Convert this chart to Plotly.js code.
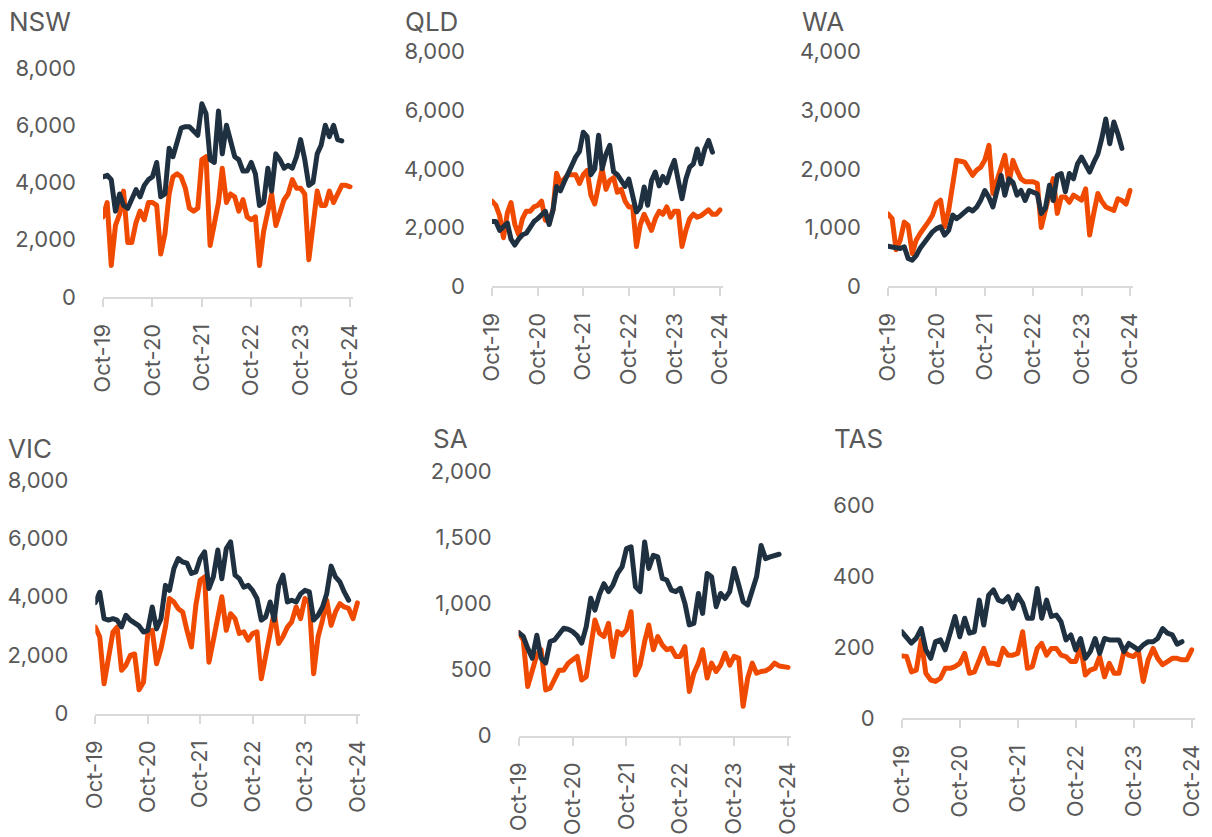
<!DOCTYPE html>
<html><head><meta charset="utf-8">
<script src="https://cdn.plot.ly/plotly-3.0.1.min.js"></script>
<style>html,body{margin:0;padding:0;background:#fff}#chart{width:1212px;height:837px}</style>
</head><body><div id="chart"></div>
<script>
const months = ['2019-10','2019-11','2019-12',
'2020-01','2020-02','2020-03','2020-04','2020-05','2020-06','2020-07','2020-08','2020-09','2020-10','2020-11','2020-12',
'2021-01','2021-02','2021-03','2021-04','2021-05','2021-06','2021-07','2021-08','2021-09','2021-10','2021-11','2021-12',
'2022-01','2022-02','2022-03','2022-04','2022-05','2022-06','2022-07','2022-08','2022-09','2022-10','2022-11','2022-12',
'2023-01','2023-02','2023-03','2023-04','2023-05','2023-06','2023-07','2023-08','2023-09','2023-10','2023-11','2023-12',
'2024-01','2024-02','2024-03','2024-04','2024-05','2024-06','2024-07','2024-08','2024-09','2024-10'];
const tickDates = ['2019-10-01','2020-10-01','2021-10-01','2022-10-01','2023-10-01','2024-10-01'];
const tickLabels = ['Oct-19','Oct-20','Oct-21','Oct-22','Oct-23','Oct-24'];
const stateNames = ['NSW','QLD','WA','VIC','SA','TAS'];

const nswDark = [4200,4250,4100,3000,3600,3200,3100,3400,3750,3500,3900,4100,4200,4700,3500,3600,5200,4900,5500,5900,5950,5950,5800,5650,6750,6400,4800,4700,6500,5000,6000,5500,4900,4800,4400,4400,4700,4300,3200,3300,4500,3700,5000,4800,4500,4600,4500,4900,5500,4800,3900,4000,5000,5300,6000,5600,6000,5500,5450];
const nswOrange = [2800,3300,1100,2500,2900,3700,1900,1900,2600,3000,2700,3300,3300,3200,1500,2200,3600,4200,4300,4200,3800,3100,3000,3100,4800,4900,1800,2500,3300,4500,3300,3600,3500,3000,3400,2800,2700,2800,1100,2300,3000,3600,2500,3000,3400,3600,4100,3800,3800,3600,1300,2500,3700,3200,3200,3700,3300,3600,3900,3900,3850];

const qldDark = [2200,2200,1900,2000,2150,1600,1400,1600,1750,1800,2000,2200,2300,2450,2550,2100,2600,3400,3250,3550,3850,4100,4400,4600,5250,5100,3800,4000,5150,4000,4500,4800,3900,3800,3600,3400,3650,3000,2530,2700,3380,2760,3600,3890,3420,3740,3530,3970,4290,3610,2980,3650,4060,4170,4680,4170,4680,4970,4570];
const qldOrange = [2900,2750,2400,1650,2500,2850,2100,1750,2300,2550,2550,2700,2750,2900,2250,2200,2600,3850,3500,3650,3800,3800,3800,3500,3800,3950,3100,2800,3500,4000,3300,3600,3700,3200,3300,2900,2700,2700,1350,2100,2450,2200,1900,2300,2550,2450,2700,2350,2550,2550,1350,1900,2300,2450,2350,2400,2500,2600,2450,2450,2600];

const waDark = [680,670,650,640,670,470,440,520,650,740,840,925,980,1010,870,950,1210,1150,1200,1260,1320,1280,1350,1470,1630,1510,1350,1630,1890,1550,1830,1770,1550,1630,1460,1630,1600,1570,1236,1330,1720,1460,1890,1920,1610,1920,1830,2088,2200,2060,1945,2110,2250,2510,2850,2430,2800,2600,2350];
const waOrange = [1230,1150,620,780,1090,1035,556,783,900,980,1095,1208,1410,1465,1010,1290,1700,2145,2130,2115,2000,1890,1980,2030,2150,2400,1580,1800,2000,2230,1750,2145,1970,1830,1780,1780,1780,1750,1000,1290,1630,1833,1240,1520,1520,1430,1550,1500,1465,1660,870,1240,1580,1450,1350,1320,1290,1490,1460,1400,1630];

const vicDark = [3800,4150,3250,3200,3250,3200,2970,3365,3200,3100,3000,2790,2850,3650,2900,3250,4390,4220,4965,5310,5190,5150,4800,4850,5310,5540,4280,4680,5600,4620,5650,5880,4740,4620,4330,4390,4220,3940,3200,3310,3820,3200,4390,4740,3820,3880,3820,4100,4220,4165,3200,3365,3650,4100,5050,4680,4510,4165,3880];
const vicOrange = [2960,2620,1020,1910,2790,2960,1480,1650,1990,2040,810,1070,2740,2850,1705,2220,2960,3940,3820,3590,3480,2850,2280,3710,4565,4680,1760,2510,3310,4000,2850,3420,3250,2740,2800,2510,2740,2800,1190,1940,2790,3475,2400,2630,2960,3140,3650,3250,3940,3800,1360,2630,3200,3880,3020,3480,3765,3650,3600,3250,3790];

const saDark = [780,750,662,585,760,585,550,712,725,762,812,805,787,755,700,825,1040,950,1070,1150,1090,1140,1227,1277,1416,1430,1126,1090,1466,1265,1365,1353,1190,1178,1102,1090,1115,1001,838,850,1076,925,1227,1202,976,1076,1038,1090,1265,1140,1014,988,1090,1202,1440,1340,1353,1365,1373];
const saOrange = [780,724,371,497,612,650,345,358,420,495,495,548,573,599,420,446,673,875,775,750,850,599,787,762,800,938,458,533,711,837,650,750,686,650,661,599,599,673,334,472,548,650,435,548,485,533,624,533,599,586,221,435,548,472,485,490,510,548,527,521,516];

const tasDark = [243,229,211,225,252,192,168,215,220,192,239,286,229,281,239,243,332,262,346,361,332,327,342,309,346,323,281,281,365,281,332,286,290,271,220,234,192,224,168,187,224,182,224,220,220,220,187,210,201,192,206,215,215,224,252,239,234,208,215];
const tasOrange = [175,173,130,135,220,126,107,103,112,140,140,145,154,182,126,130,164,196,154,154,150,196,177,177,182,243,140,145,196,210,177,196,196,177,173,159,159,201,121,135,140,173,116,154,126,126,187,177,173,187,103,164,196,168,150,159,168,168,164,164,192];

const yTicksNSW = [0,2000,4000,6000,8000];
const yTicksQLD = [0,2000,4000,6000,8000];
const yTicksWA  = [0,1000,2000,3000,4000];
const yTicksVIC = [0,2000,4000,6000,8000];
const yTicksSA  = [0,500,1000,1500,2000];
const yTicksTAS = [0,200,400,600];

const darkSeries = [nswDark, qldDark, waDark, vicDark, saDark, tasDark];
const orangeSeries = [nswOrange, qldOrange, waOrange, vicOrange, saOrange, tasOrange];
const yTickSets = [yTicksNSW, yTicksQLD, yTicksWA, yTicksVIC, yTicksSA, yTicksTAS];

// layout boxes in pixels (style only)
const W = 1212, H = 837;
const boxes = [
  {x0:103,   x1:352.9,  yTop:68,    yBot:297,   tx:7,   ty:22},
  {x0:492,   x1:722.7,  yTop:51.7,  yBot:286,   tx:403, ty:22},
  {x0:888,   x1:1132.8, yTop:51.7,  yBot:286,   tx:800, ty:22},
  {x0:95.3,  x1:360.4,  yTop:480,   yBot:713.5, tx:6,   ty:448},
  {x0:518.7, x1:791.2,  yTop:471.5, yBot:735.5, tx:431, ty:438},
  {x0:901.7, x1:1195,   yTop:505,   yBot:718,   tx:832, ty:438}
];
const xRange = ['2019-10-01', '2024-10-22'];
const DARK = '#1f3141', ORANGE = '#f04a00', TXT = '#595959', AXIS = '#d9d9d9';
const FONT = 'Inter, "Open Sans", sans-serif';

const traces = [];
const layout = {
  width: W, height: H, margin: {l:0, r:0, t:0, b:0},
  paper_bgcolor: '#fff', plot_bgcolor: '#fff', showlegend: false,
  annotations: []
};

for (let i = 0; i < 6; i++) {
  const sfx = i === 0 ? '' : String(i + 1);
  const xa = 'x' + sfx, ya = 'y' + sfx;
  const b = boxes[i];
  traces.push({
    type: 'scatter', mode: 'lines', x: months.slice(0, orangeSeries[i].length), y: orangeSeries[i],
    xaxis: xa, yaxis: ya, line: {color: ORANGE, width: 5}, hoverinfo: 'skip'
  });
  traces.push({
    type: 'scatter', mode: 'lines', x: months.slice(0, darkSeries[i].length), y: darkSeries[i],
    xaxis: xa, yaxis: ya, line: {color: DARK, width: 5}, hoverinfo: 'skip'
  });
  const yt = yTickSets[i];
  layout['xaxis' + sfx] = {
    type: 'date', range: xRange, domain: [b.x0 / W, b.x1 / W], anchor: ya,
    tickvals: tickDates, ticktext: tickLabels, tickangle: -90,
    showgrid: false, zeroline: false, showline: true, linecolor: AXIS, linewidth: 2,
    ticks: 'outside', ticklen: 8, tickwidth: 2, tickcolor: AXIS, ticklabelstandoff: 8,
    tickfont: {family: FONT, size: 22, color: TXT}, fixedrange: true
  };
  layout['yaxis' + sfx] = {
    range: [yt[0], yt[yt.length - 1]], domain: [1 - b.yBot / H, 1 - b.yTop / H], anchor: xa,
    tickvals: yt, tickformat: ',d', showgrid: false, zeroline: false, showline: false,
    ticks: '', ticklabelstandoff: 26,
    tickfont: {family: FONT, size: 22, color: TXT}, fixedrange: true
  };
  layout.annotations.push({
    text: stateNames[i], xref: 'paper', yref: 'paper', x: b.tx / W, y: 1 - b.ty / H,
    xanchor: 'left', yanchor: 'middle', showarrow: false,
    font: {family: FONT, size: 26, color: TXT}
  });
}

Plotly.newPlot('chart', traces, layout, {staticPlot: true, displayModeBar: false}).then(() => {
  document.querySelectorAll('.scatterlayer path.js-line').forEach(p => {
    p.style.strokeLinejoin = 'round';
    p.style.strokeLinecap = 'round';
  });
});
</script>
</body></html>
